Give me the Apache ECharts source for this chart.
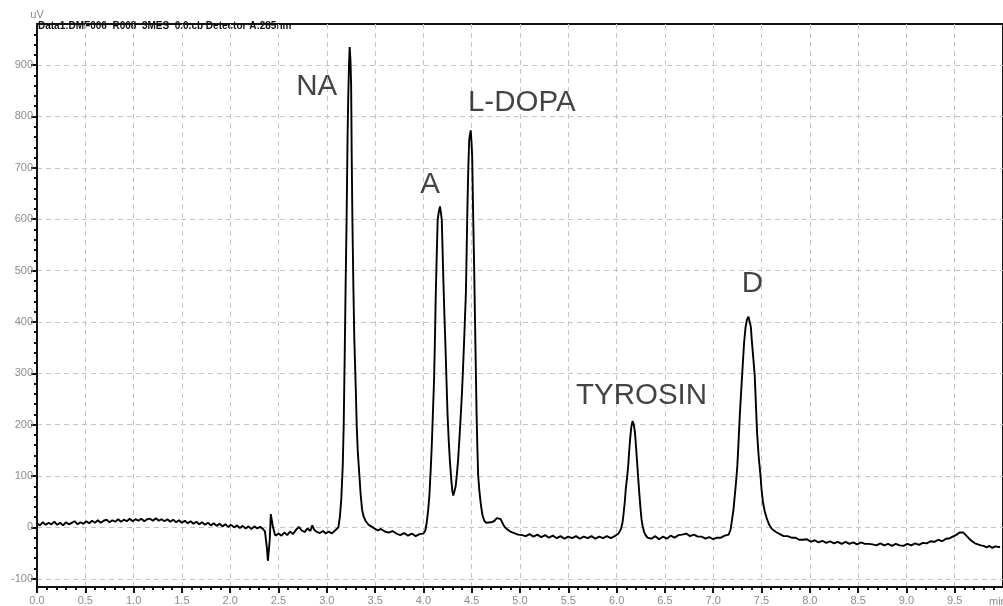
<!DOCTYPE html>
<html>
<head>
<meta charset="utf-8">
<script src="https://cdn.jsdelivr.net/npm/echarts@6/dist/echarts.min.js"></script>
<style>
html,body{margin:0;padding:0;background:#fff;}
#chart{width:1003px;height:606px;}
</style>
</head>
<body>
<div id="chart"></div>
<script>
// Tick labels
const xTickValues = [0,0.5,1,1.5,2,2.5,3,3.5,4,4.5,5,5.5,6,6.5,7,7.5,8,8.5,9,9.5];
const yTickValues = [-100,0,100,200,300,400,500,600,700,800,900];
const xUnit = 'min';
const yUnit = 'uV';
const headerText = 'Data1:DMF006  R008  3MES  0.0.cb Detector A:285nm';

// Peak names and apex (retention time min, signal uV)
const peakNames = ['NA','A','L-DOPA','TYROSIN','D'];
const peakTimes = [3.237, 4.172, 4.49, 6.165, 7.365];
const peakHeights = [935, 625, 773, 207, 410];

// Chromatogram trace [time (min), signal (uV)]
const chromatogram = [
[0.00,8],[0.03,4],[0.06,10],[0.09,5],[0.12,9],[0.15,6],[0.18,11],[0.21,5],[0.24,9],[0.27,4],
[0.30,10],[0.33,6],[0.36,9],[0.39,12],[0.42,6],[0.45,10],[0.48,7],[0.51,12],[0.54,8],[0.57,13],
[0.60,9],[0.63,14],[0.66,9],[0.69,13],[0.72,15],[0.75,10],[0.78,14],[0.81,11],[0.84,16],[0.87,11],
[0.90,15],[0.93,12],[0.96,17],[0.99,12],[1.02,16],[1.05,13],[1.08,17],[1.11,12],[1.14,16],[1.17,17],
[1.20,13],[1.23,18],[1.26,13],[1.29,16],[1.32,12],[1.35,16],[1.38,11],[1.41,15],[1.44,10],[1.47,14],
[1.50,9],[1.53,13],[1.56,8],[1.59,12],[1.62,7],[1.65,11],[1.68,6],[1.71,10],[1.74,5],[1.77,9],
[1.80,4],[1.83,8],[1.86,3],[1.89,7],[1.92,2],[1.95,6],[1.98,1],[2.01,5],[2.04,0],[2.07,4],
[2.10,-1],[2.13,3],[2.16,-2],[2.19,2],[2.22,-3],[2.25,2],[2.28,-2],[2.31,1],[2.34,-3],[2.36,-8],
[2.38,-40],[2.39,-65],[2.40,-45],[2.41,-22],[2.42,26],[2.43,15],[2.44,3],[2.46,-12],[2.47,-16],[2.50,-12],
[2.53,-16],[2.56,-10],[2.59,-15],[2.62,-8],[2.65,-13],[2.68,-5],[2.71,1],[2.74,-6],[2.77,-9],[2.80,-2],
[2.83,-7],[2.85,4],[2.87,-5],[2.90,-9],[2.93,-11],[2.96,-7],[2.99,-12],[3.02,-8],[3.05,-12],[3.08,-7],
[3.10,-6],[3.12,0],[3.135,20],[3.15,55],[3.165,120],[3.175,200],[3.185,330],[3.195,473],[3.205,600],[3.215,760],
[3.222,838],[3.230,900],[3.237,935],[3.245,910],[3.252,860],[3.258,720],[3.265,600],[3.275,470],[3.285,366],[3.30,270],
[3.31,197],[3.32,150],[3.335,108],[3.35,65],[3.365,35],[3.38,22],[3.40,13],[3.42,8],[3.44,4],[3.47,1],
[3.50,-3],[3.53,-6],[3.56,-3],[3.60,-8],[3.64,-10],[3.68,-7],[3.72,-12],[3.76,-15],[3.80,-11],[3.84,-16],
[3.88,-12],[3.92,-17],[3.96,-13],[4.00,-12],[4.02,-6],[4.035,10],[4.05,35],[4.062,62],[4.075,110],[4.086,156],
[4.098,220],[4.11,285],[4.12,370],[4.127,444],[4.138,530],[4.148,599],[4.16,615],[4.172,625],[4.182,612],[4.19,599],
[4.198,545],[4.206,486],[4.218,410],[4.23,343],[4.24,280],[4.25,220],[4.262,170],[4.275,127],[4.29,90],[4.30,70],
[4.31,62],[4.32,65],[4.333,79],[4.345,100],[4.36,133],[4.375,180],[4.39,229],[4.40,265],[4.41,308],[4.425,380],
[4.44,457],[4.448,540],[4.456,625],[4.465,700],[4.474,754],[4.482,765],[4.49,773],[4.498,750],[4.505,722],[4.515,610],
[4.526,499],[4.538,360],[4.55,227],[4.558,160],[4.567,101],[4.58,70],[4.594,46],[4.61,25],[4.63,13],[4.65,9],
[4.67,7],[4.70,10],[4.73,12],[4.76,18],[4.78,21],[4.80,16],[4.82,8],[4.84,1],[4.87,-4],[4.90,-8],
[4.94,-11],[4.98,-14],[5.02,-15],[5.06,-17],[5.10,-13],[5.14,-18],[5.18,-14],[5.22,-19],[5.26,-15],[5.30,-20],
[5.34,-16],[5.38,-21],[5.42,-17],[5.46,-22],[5.50,-18],[5.54,-21],[5.58,-17],[5.62,-22],[5.66,-18],[5.70,-21],
[5.74,-17],[5.78,-22],[5.82,-18],[5.86,-21],[5.90,-17],[5.94,-21],[5.98,-17],[6.02,-12],[6.045,-3],[6.06,8],
[6.07,23],[6.085,50],[6.095,75],[6.11,100],[6.12,120],[6.13,148],[6.14,172],[6.152,195],[6.165,207],[6.178,200],
[6.19,185],[6.20,160],[6.21,133],[6.222,100],[6.234,69],[6.246,40],[6.258,16],[6.27,2],[6.285,-9],[6.30,-15],
[6.32,-20],[6.36,-22],[6.40,-17],[6.44,-23],[6.48,-18],[6.52,-22],[6.56,-16],[6.60,-20],[6.64,-15],[6.68,-14],
[6.72,-12],[6.76,-17],[6.80,-14],[6.84,-18],[6.88,-18],[6.92,-22],[6.96,-19],[7.00,-23],[7.04,-20],[7.08,-20],
[7.12,-16],[7.16,-14],[7.18,-4],[7.196,16],[7.21,35],[7.22,55],[7.235,85],[7.25,120],[7.262,165],[7.275,217],
[7.288,260],[7.30,298],[7.31,330],[7.32,360],[7.335,390],[7.35,405],[7.365,410],[7.378,408],[7.39,390],[7.40,363],
[7.415,330],[7.43,295],[7.442,240],[7.454,185],[7.47,140],[7.49,100],[7.50,75],[7.515,49],[7.535,30],[7.557,16],
[7.58,5],[7.608,-3],[7.65,-9],[7.69,-13],[7.73,-17],[7.77,-17],[7.81,-20],[7.85,-20],[7.89,-24],[7.93,-24],
[7.97,-23],[8.01,-28],[8.05,-25],[8.09,-29],[8.13,-26],[8.17,-30],[8.21,-27],[8.25,-31],[8.29,-28],[8.33,-32],
[8.37,-28],[8.41,-32],[8.45,-29],[8.49,-33],[8.53,-29],[8.57,-32],[8.61,-32],[8.65,-33],[8.69,-35],[8.73,-31],
[8.77,-35],[8.81,-32],[8.85,-36],[8.89,-32],[8.93,-35],[8.97,-36],[9.01,-32],[9.05,-35],[9.09,-31],[9.13,-34],
[9.17,-30],[9.21,-31],[9.25,-27],[9.29,-28],[9.33,-24],[9.37,-27],[9.41,-22],[9.45,-21],[9.49,-17],[9.52,-14],
[9.55,-10],[9.57,-8],[9.59,-10],[9.62,-16],[9.65,-22],[9.68,-27],[9.71,-31],[9.74,-33],[9.77,-35],[9.80,-36],
[9.83,-39],[9.86,-36],[9.89,-40],[9.92,-37],[9.95,-38],[9.97,-38]
];

// minor tick positions
const xMinor = []; for (let i = 0; i < 100; i++) xMinor.push(+(i * 0.1).toFixed(1));
const yMinor = []; for (let v = -100; v <= 960; v += 20) yMinor.push(v);

const labelOffsets = [[-33,40],[-10,-21],[51,-27],[9,-25],[4,-33]];

const chart = echarts.init(document.getElementById('chart'), null, {renderer:'canvas'});
const gridDash = {color:'#c4c4c4', width:1, type:[5,4]};
const option = {
  animation:false,
  backgroundColor:'#fff',
  grid:{left:37, right:-4, top:24, bottom:18, show:true, borderColor:'#111', borderWidth:2, backgroundColor:'rgba(0,0,0,0)', containLabel:false},
  xAxis:[{
    type:'value', min:0, max:10, position:'bottom',
    axisLine:{show:true, onZero:false, lineStyle:{color:'#111', width:2}},
    axisTick:{show:true, length:6, customValues:xTickValues, lineStyle:{color:'#111', width:2}},
    axisLabel:{show:true, customValues:xTickValues, color:'#8c8c8c', fontSize:11, fontFamily:'Liberation Sans', margin:8,
      formatter:v=>v.toFixed(1)},
    splitLine:{show:true, lineStyle:gridDash}
  },{
    type:'value', min:0, max:10, position:'bottom', gridIndex:0,
    axisLine:{show:false, onZero:false},
    axisTick:{show:true, length:3, customValues:xMinor, lineStyle:{color:'#111', width:2}},
    axisLabel:{show:false}, splitLine:{show:false}
  }],
  yAxis:[{
    type:'value', min:-116, max:980, position:'left',
    name:yUnit, nameLocation:'end', nameGap:4,
    nameTextStyle:{color:'#8c8c8c', fontSize:11, fontFamily:'Liberation Sans', align:'center'},
    axisLine:{show:true, onZero:false, lineStyle:{color:'#111', width:2}},
    axisTick:{show:true, length:6, customValues:yTickValues, lineStyle:{color:'#111', width:2}},
    axisLabel:{show:true, customValues:yTickValues, color:'#8c8c8c', fontSize:11, fontFamily:'Liberation Sans', margin:4},
    splitLine:{show:true, lineStyle:gridDash}
  },{
    type:'value', min:-116, max:980, position:'left', gridIndex:0,
    axisLine:{show:false, onZero:false},
    axisTick:{show:true, length:3, customValues:yMinor, lineStyle:{color:'#111', width:2}},
    axisLabel:{show:false}, splitLine:{show:false}
  }],
  graphic:[
    {type:'text', left:38, top:21, style:{text:headerText, fill:'#111', font:'bold 10px "Liberation Sans"'}},
    {type:'text', left:989, top:596, style:{text:xUnit, fill:'#8c8c8c', font:'11px "Liberation Sans"'}}
  ],
  series:[{
    type:'line', xAxisIndex:0, yAxisIndex:0, data:chromatogram,
    showSymbol:false, symbol:'none', lineStyle:{color:'#000', width:1.9}, z:3
  },{
    type:'scatter', xAxisIndex:0, yAxisIndex:0, symbolSize:1, itemStyle:{color:'rgba(0,0,0,0)'},
    data:peakNames.map((n,i)=>({name:n, value:[peakTimes[i], peakHeights[i]],
      label:{show:true, formatter:n, position:'inside', offset:labelOffsets[i]}})),
    label:{color:'#141414', fontSize:29.5, fontFamily:'Liberation Sans'},
    z:4, silent:true
  }]
};
chart.setOption(option);
</script>
</body>
</html>
